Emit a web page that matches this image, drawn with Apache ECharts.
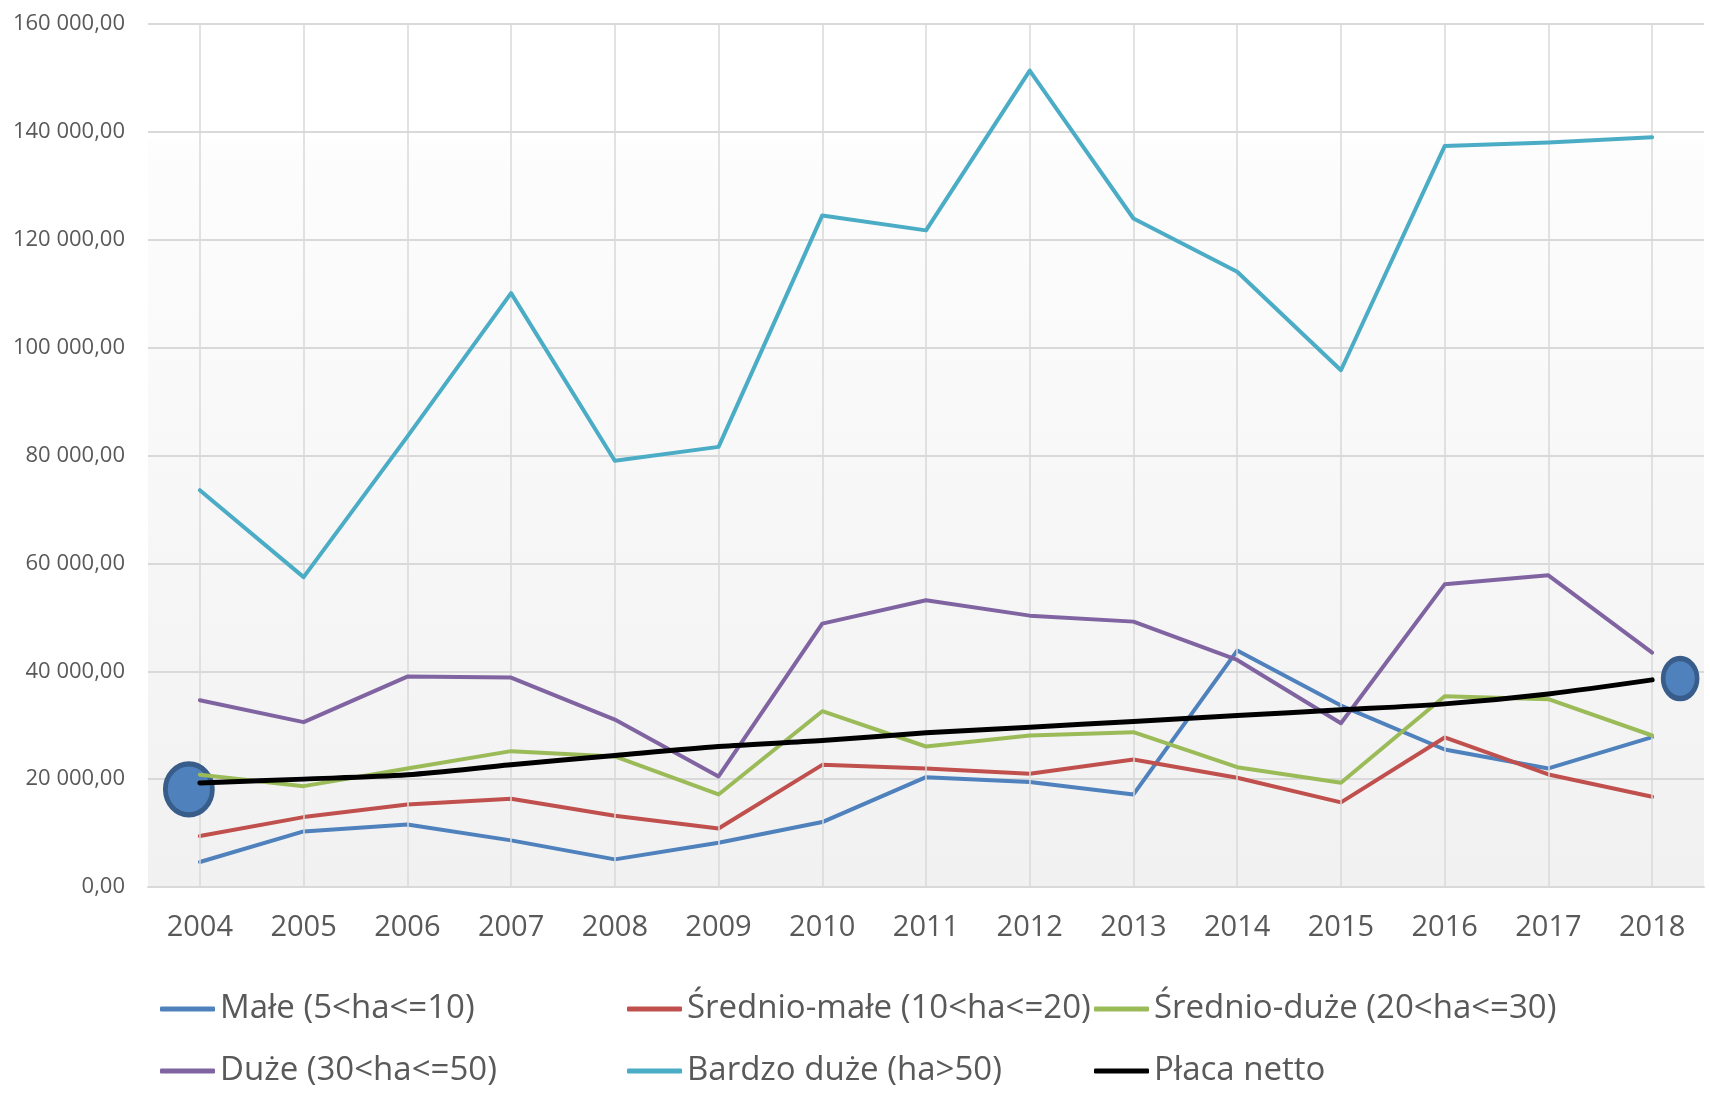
<!DOCTYPE html>
<html>
<head>
<meta charset="utf-8">
<script src="https://cdn.jsdelivr.net/npm/echarts@6/dist/echarts.min.js"></script>
<style>
  html, body { margin: 0; padding: 0; background: #ffffff; overflow: hidden; }
  #chart { width: 1710px; height: 1096px; }
</style>
</head>
<body>
<div id="chart"></div>
<script>
// lata
const years = ['2004', '2005', '2006', '2007', '2008', '2009', '2010', '2011',
  '2012', '2013', '2014', '2015', '2016', '2017', '2018'];

// wartości serii
const male = [4630, 10310, 11600, 8640, 5120, 8210, 12040, 20370, 19450, 17160, 43830, 33640, 25490, 21980, 27780];
const sredMale = [9440, 12960, 15310, 16360, 13210, 10860, 22650, 21980, 20990, 23640, 20250, 15680, 27720, 20860, 16730];
const sredDuze = [20800, 18700, 21980, 25190, 24200, 17160, 32590, 26050, 28090, 28700, 22220, 19320, 35370, 34820, 28090];
const duze = [34630, 30560, 39010, 38830, 31050, 20490, 48830, 53150, 50310, 49200, 42100, 30370, 56110, 57780, 43460];
const bardzoDuze = [73570, 57450, 83500, 110100, 79040, 81600, 124510, 121740, 151370, 123940, 114070, 95810, 137370, 138010, 139000];
const placaNetto = [19300, 20000, 20800, 22650, 24380, 26050, 27160, 28580, 29630, 30680, 31790, 32840, 33950, 35800, 38400];

// niebieskie znaczniki (elipsy) przy pierwszym i ostatnim roku
const markerYears = ['2004', '2018'];
const markerValues = [18100, 38640];

const names = [
  'Małe (5<ha<=10)',
  'Średnio-małe (10<ha<=20)',
  'Średnio-duże (20<ha<=30)',
  'Duże (30<ha<=50)',
  'Bardzo duże (ha>50)',
  'Płaca netto'
];
const colors = ['#4f81bd', '#c0504d', '#9bbb59', '#8064a2', '#4bacc6', '#000000'];
const values = [male, sredMale, sredDuze, duze, bardzoDuze, placaNetto];

const FONT = 'Open Sans';
const GRID = { left: 148, right: 6, top: 24, bottom: 209 };

const fmt = (v) => String(v).replace(/\B(?=(\d{3})+(?!\d))/g, ' ') + ',00';

const legendCommon = {
  orient: 'vertical',
  icon: 'roundRect',
  padding: 0,
  height: 110,
  itemWidth: 55,
  itemHeight: 5,
  itemGap: 22,
  top: 989,
  textStyle: { fontFamily: FONT, fontSize: 33, color: '#595959', lineHeight: 40 },
};

const series = names.map((name, i) => ({
  name: name,
  type: 'line',
  data: values[i],
  showSymbol: false,
  smooth: i === 5 ? 0.3 : false,
  lineStyle: { color: colors[i], width: i === 5 ? 5 : 4, cap: 'round', join: 'round' },
  itemStyle: { color: colors[i] },
  z: 3 + i,
}));

series[5].markPoint = {
  silent: true,
  label: { show: false },
  itemStyle: { color: '#4f81bd', borderColor: '#385d8a', borderWidth: 5 },
  data: [
    { coord: [markerYears[0], markerValues[0]], symbol: 'circle', symbolSize: [47, 51], symbolOffset: [-11, 0] },
    { coord: [markerYears[1], markerValues[1]], symbol: 'circle', symbolSize: [34, 40], symbolOffset: [28, 0] },
  ],
};

// pionowe linie siatki przez środki kategorii
series.unshift({
  name: 'siatka',
  type: 'line',
  data: [],
  z: 1,
  silent: true,
  markLine: {
    silent: true,
    symbol: 'none',
    label: { show: false },
    lineStyle: { color: '#d9d9d9', width: 1.5, type: 'solid' },
    data: years.map((y) => ({ xAxis: y })),
  },
});

const chart = echarts.init(document.getElementById('chart'));
chart.setOption({
  animation: false,
  backgroundColor: '#ffffff',
  // tło obszaru wykresu (gradient jak w Excelu)
  graphic: [{
    type: 'rect',
    z: -10,
    silent: true,
    shape: { x: GRID.left, y: GRID.top, width: 1710 - GRID.left - GRID.right, height: 1096 - GRID.top - GRID.bottom },
    style: {
      fill: {
        type: 'linear', x: 0, y: 0, x2: 0, y2: 1,
        colorStops: [
          { offset: 0, color: '#ffffff' },
          { offset: 0.13, color: '#ffffff' },
          { offset: 0.14, color: '#fdfdfd' },
          { offset: 1, color: '#f1f1f1' },
        ],
      },
    },
  }],
  grid: Object.assign({ show: false }, GRID),
  legend: [
    Object.assign({}, legendCommon, { left: 160, data: [names[0], names[3]] }),
    Object.assign({}, legendCommon, { left: 627, data: [names[1], names[4]] }),
    Object.assign({}, legendCommon, { left: 1094, data: [names[2], names[5]] }),
  ],
  xAxis: {
    type: 'category',
    data: years,
    boundaryGap: true,
    axisLine: { show: true, lineStyle: { color: '#d9d9d9', width: 2 } },
    axisTick: { show: false },
    axisLabel: { fontFamily: FONT, fontSize: 29, color: '#595959', margin: 26 },
    splitLine: { show: false },
  },
  yAxis: {
    type: 'value',
    min: 0,
    max: 160000,
    interval: 20000,
    axisLine: { show: false },
    axisTick: { show: false },
    axisLabel: { fontFamily: FONT, fontSize: 22, color: '#595959', margin: 23, formatter: fmt },
    splitLine: { lineStyle: { color: '#d9d9d9', width: 2 } },
  },
  series: series,
});
</script>
</body>
</html>
